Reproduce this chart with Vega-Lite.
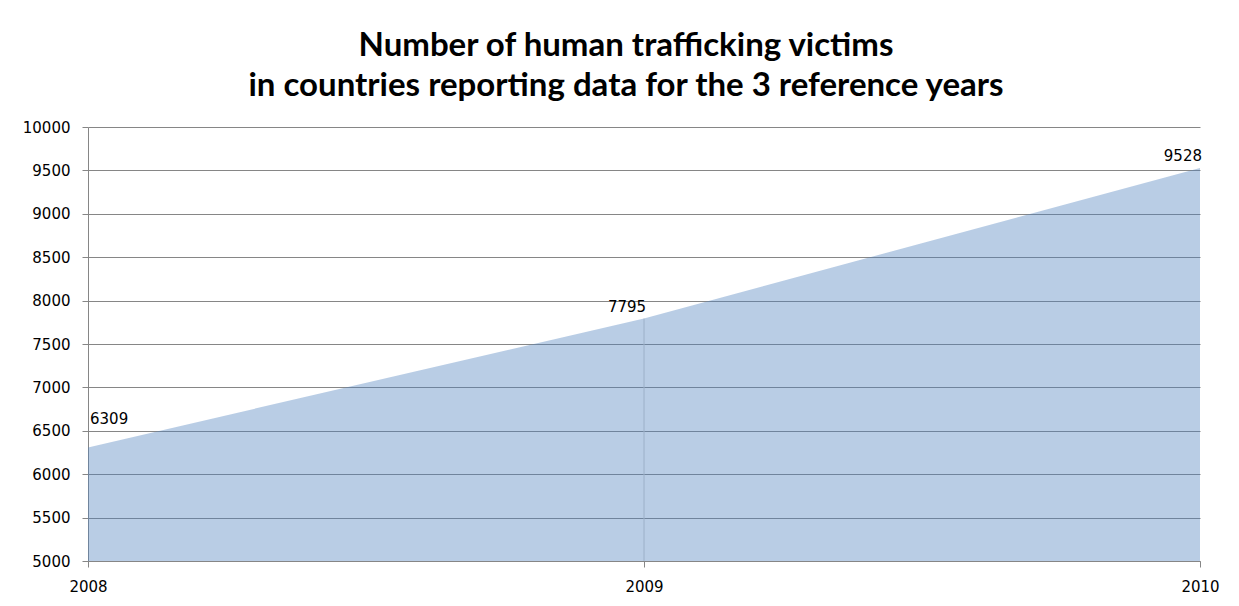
{
  "$schema": "https://vega.github.io/schema/vega-lite/v6.json",
  "autosize": "none",
  "width": 1112,
  "height": 434,
  "padding": {"left": 88, "top": 127, "right": 39, "bottom": 45},
  "background": "white",
  "title": {
    "text": ["Number of human trafficking victims", "in countries reporting data for the 3 reference years"],
    "font": "Lato",
    "fontSize": 33,
    "fontWeight": "bold",
    "color": "#000000",
    "anchor": "middle",
    "dx": -18,
    "lineHeight": 40,
    "offset": 17
  },
  "config": {
    "view": {"stroke": null},
    "axis": {
      "labelFont": "DejaVu Sans",
      "labelFontSize": 15,
      "labelColor": "#000000",
      "domainColor": "#868686",
      "tickColor": "#868686",
      "gridColor": "#868686",
      "title": null
    }
  },
  "data": {
    "values": [
      {"year": 2008, "victims": 6309},
      {"year": 2009, "victims": 7795},
      {"year": 2010, "victims": 9528}
    ]
  },
  "encoding": {
    "x": {
      "field": "year",
      "type": "quantitative",
      "scale": {"domain": [2008, 2010], "nice": false, "zero": false},
      "axis": {"tickCount": 2, "format": "d", "grid": false, "tickSize": 6, "labelPadding": 12, "labelFlush": false, "labelOverlap": false, "labelBound": false, "labelAlign": "center"}
    },
    "y": {
      "field": "victims",
      "type": "quantitative",
      "scale": {"domain": [5000, 10000], "nice": false, "zero": false},
      "axis": {"values": [5000, 5500, 6000, 6500, 7000, 7500, 8000, 8500, 9000, 9500, 10000], "format": "d", "tickSize": 6, "labelPadding": 12, "labelOverlap": false}
    }
  },
  "layer": [
    {
      "transform": [{"filter": "datum.year == 2009"}],
      "mark": {"type": "rule", "color": "#D0D0D0", "strokeWidth": 1},
      "encoding": {
        "y2": {"datum": 5000}
      }
    },
    {
      "mark": {"type": "area", "color": "#4F81BD", "opacity": 0.4},
      "encoding": {
        "y2": {"datum": 5000}
      }
    },
    {
      "transform": [{"filter": "datum.year == 2008"}],
      "mark": {"type": "text", "font": "DejaVu Sans", "fontSize": 15, "color": "#000000", "align": "left", "baseline": "middle", "dx": 2, "dy": -28},
      "encoding": {
        "text": {"field": "victims", "type": "quantitative", "format": "d"}
      }
    },
    {
      "transform": [{"filter": "datum.year == 2009"}],
      "mark": {"type": "text", "font": "DejaVu Sans", "fontSize": 15, "color": "#000000", "align": "center", "baseline": "middle", "dx": -17, "dy": -11},
      "encoding": {
        "text": {"field": "victims", "type": "quantitative", "format": "d"}
      }
    },
    {
      "transform": [{"filter": "datum.year == 2010"}],
      "mark": {"type": "text", "font": "DejaVu Sans", "fontSize": 15, "color": "#000000", "align": "right", "baseline": "middle", "dx": 2, "dy": -12},
      "encoding": {
        "text": {"field": "victims", "type": "quantitative", "format": "d"}
      }
    }
  ]
}
